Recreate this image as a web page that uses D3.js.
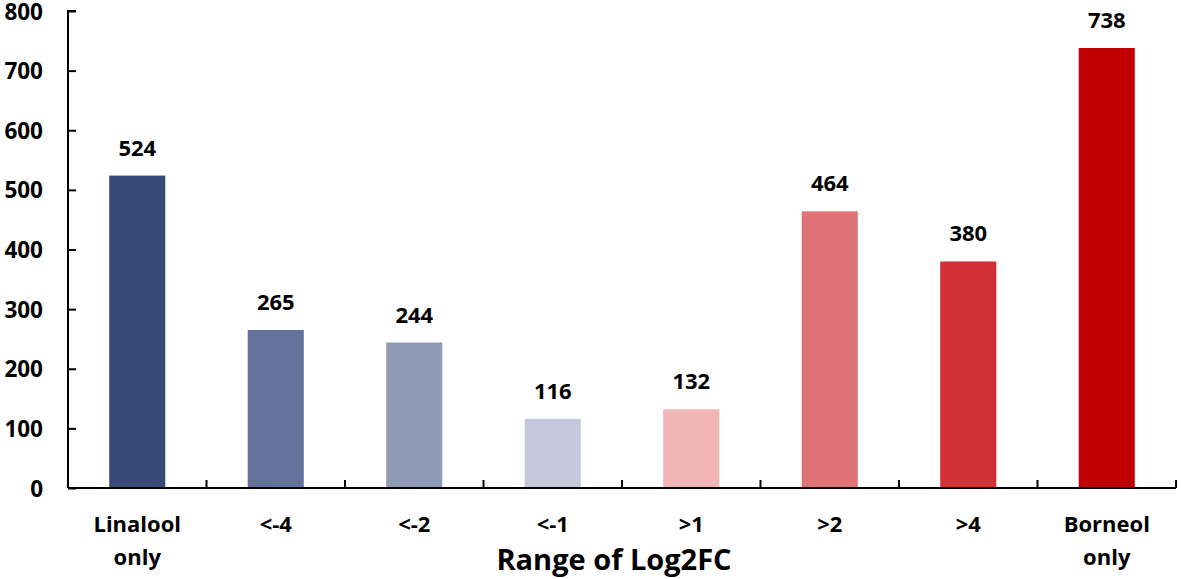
<!DOCTYPE html>
<html>
<head>
<meta charset="utf-8">
<script src="https://cdn.jsdelivr.net/npm/d3@7/dist/d3.min.js"></script>
<style>
  html, body { margin: 0; padding: 0; background: #fff; }
  text { font-family: "Open Sans", "DejaVu Sans", sans-serif; font-weight: 700; fill: #000; }
</style>
</head>
<body>
<svg id="chart" width="1181" height="579"></svg>
<script>
const categories = ["Linalool\nonly", "<-4", "<-2", "<-1", ">1", ">2", ">4", "Borneol\nonly"];
const values = [524, 265, 244, 116, 132, 464, 380, 738];
const colors = ["#374a78", "#63729a", "#8f9bb6", "#c3c9d9", "#f2b6b7", "#e07375", "#d23236", "#c00000"];
const yTicks = [0, 100, 200, 300, 400, 500, 600, 700, 800];
const xTitle = "Range of Log2FC";

(function () {
const svg = d3.select("#chart");
const mLeft = 68, mRight = 1176, mTop = 11, mBottom = 488;

const x = d3.scaleBand().domain(d3.range(categories.length)).range([mLeft, mRight]).paddingInner(0.595).paddingOuter(0.2975);
const xb = d3.scaleBand().domain(d3.range(categories.length)).range([mLeft, mRight]);
const y = d3.scaleLinear().domain([0, 800]).range([mBottom, mTop]);

// bars
svg.selectAll("rect.bar").data(values).enter().append("rect")
  .attr("class", "bar")
  .attr("x", (d, i) => x(i))
  .attr("width", x.bandwidth())
  .attr("y", d => y(d))
  .attr("height", d => y(0) - y(d))
  .attr("fill", (d, i) => colors[i]);

// value labels
svg.selectAll("text.val").data(values).enter().append("text")
  .attr("class", "val")
  .attr("x", (d, i) => x(i) + x.bandwidth() / 2)
  .attr("y", d => y(d) - 20)
  .attr("text-anchor", "middle")
  .style("font-size", "22px")
  .text(d => d);

// y axis
const yAxis = d3.axisRight(y).tickValues(yTicks).tickSize(8).tickFormat("");
const gy = svg.append("g").attr("transform", `translate(${mLeft},0)`).call(yAxis);
gy.select(".domain").attr("d", `M8,${mTop}H0V${mBottom}`).attr("stroke", "#000").attr("stroke-width", 2).attr("fill", "none");
gy.selectAll(".tick line").attr("stroke", "#000").attr("stroke-width", 2);

svg.selectAll("text.ytick").data(yTicks).enter().append("text")
  .attr("class", "ytick")
  .attr("x", 43)
  .attr("y", d => y(d))
  .attr("dy", "0.38em")
  .attr("text-anchor", "end")
  .style("font-size", "22.5px")
  .text(d => d);

// x axis
const boundaries = d3.range(categories.length + 1).map(i => mLeft + i * xb.bandwidth());
svg.append("line").attr("x1", mLeft).attr("x2", mRight).attr("y1", mBottom).attr("y2", mBottom)
  .attr("stroke", "#000").attr("stroke-width", 2);
svg.selectAll("line.xtick").data(boundaries.slice(1)).enter().append("line")
  .attr("class", "xtick")
  .attr("x1", d => d).attr("x2", d => d)
  .attr("y1", mBottom).attr("y2", mBottom - 8)
  .attr("stroke", "#000").attr("stroke-width", 2);

// category labels
const cl = svg.selectAll("text.cat").data(categories).enter().append("text")
  .attr("class", "cat")
  .attr("text-anchor", "middle")
  .style("font-size", "22px");
cl.each(function(d, i) {
  const t = d3.select(this);
  d.split("\n").forEach((line, j) => {
    t.append("tspan")
      .attr("x", x(i) + x.bandwidth() / 2)
      .attr("y", 532 + j * 33)
      .text(line);
  });
});

// axis title
svg.append("text")
  .attr("x", 614)
  .attr("y", 570)
  .attr("text-anchor", "middle")
  .style("font-size", "29px")
  .text(xTitle);
})();
</script>
</body>
</html>
